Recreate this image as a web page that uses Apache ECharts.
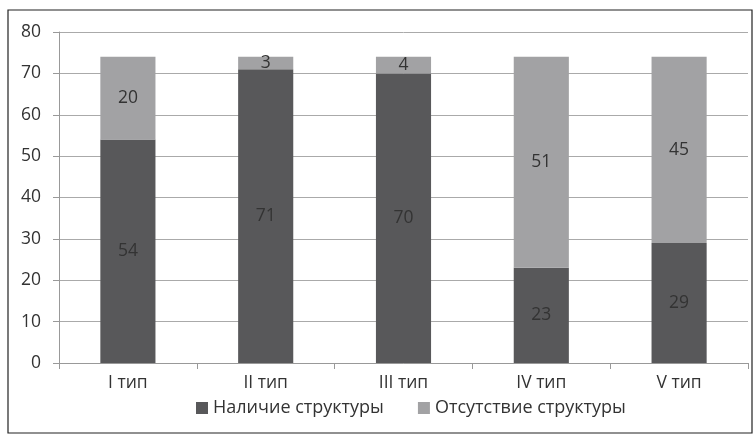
<!DOCTYPE html>
<html><head><meta charset="utf-8">
<script src="https://cdn.jsdelivr.net/npm/echarts@6/dist/echarts.min.js"></script>
<style>html,body{margin:0;padding:0;background:#fff}#c{width:755px;height:440px}</style>
</head><body><div id="c"></div>
<script>
const categories = ['I тип', 'II тип', 'III тип', 'IV тип', 'V тип'];
const presentValues = [54, 71, 70, 23, 29];
const absentValues = [20, 3, 4, 51, 45];
const seriesNames = ['Наличие структуры', 'Отсутствие структуры'];
const yTicks = [0, 10, 20, 30, 40, 50, 60, 70, 80];

const font = '"Open Sans", "Noto Sans", sans-serif';
const fs = 17.5;
const chart = echarts.init(document.getElementById('c'), null, {renderer: 'canvas'});
const lbl = {show: true, position: 'inside', color: '#333', fontSize: fs, fontFamily: font};
chart.setOption({
  animation: false,
  backgroundColor: '#fff',
  graphic: [{type: 'rect', shape: {x: 8, y: 10, width: 744, height: 423},
    style: {fill: 'none', stroke: '#222', lineWidth: 1.2}, z: 100}],
  grid: {left: 59, right: 7, top: 32, bottom: 77},
  legend: {
    bottom: 18, left: 191, itemWidth: 12, itemHeight: 12, itemGap: 34, itemTextGap: 4,
    icon: 'rect',
    textStyle: {fontSize: 18, color: '#333', fontFamily: font},
    data: seriesNames
  },
  xAxis: {
    type: 'category', data: categories,
    axisLine: {lineStyle: {color: '#999'}},
    axisTick: {show: true, length: 6, lineStyle: {color: '#999'}},
    axisLabel: {fontSize: fs, color: '#333', fontFamily: font, margin: 11}
  },
  yAxis: {
    type: 'value', min: yTicks[0], max: yTicks[yTicks.length - 1], interval: 10,
    axisLine: {show: true, lineStyle: {color: '#999'}},
    axisTick: {show: true, length: 6, lineStyle: {color: '#999'}},
    axisLabel: {fontSize: fs, color: '#333', fontFamily: font, margin: 18},
    splitLine: {lineStyle: {color: '#aaa'}}
  },
  series: [
    {name: seriesNames[0], type: 'bar', stack: 's', data: presentValues, barWidth: '40%',
     itemStyle: {color: '#58585a'}, label: lbl},
    {name: seriesNames[1], type: 'bar', stack: 's', data: absentValues, barWidth: '40%',
     itemStyle: {color: '#a2a2a4'}, label: lbl}
  ]
});
</script></body></html>
